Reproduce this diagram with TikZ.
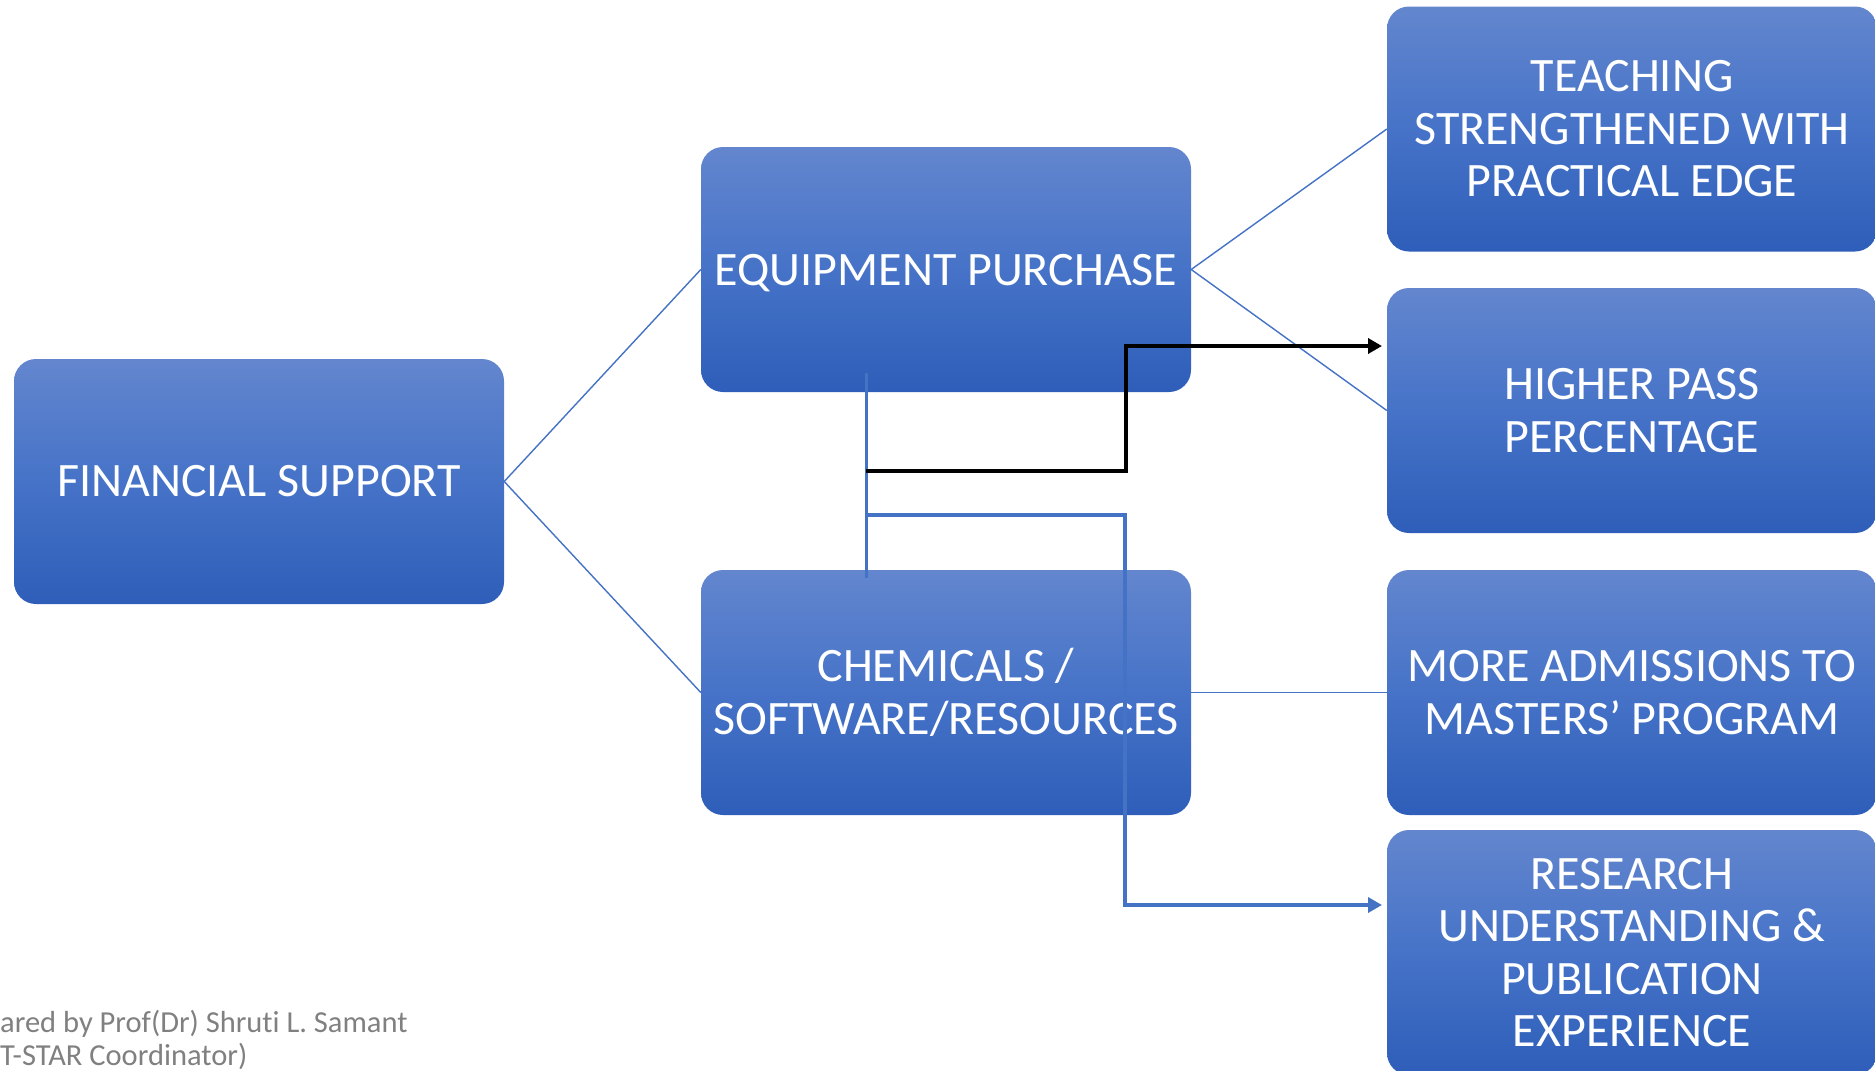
\documentclass[tikz,border=0pt]{standalone}
\usepackage{fontspec}
\setmainfont{Carlito}
\newfontfamily\footfont[Ligatures=NoCommon]{Carlito}
\usetikzlibrary{arrows.meta}
\definecolor{gtop}{RGB}{99,134,206}
\definecolor{gmid}{RGB}{70,115,200}
\definecolor{gbot}{RGB}{46,94,185}
\definecolor{accent}{RGB}{68,114,196}
\definecolor{foot}{RGB}{128,128,128}
\tikzset{
  bluebox/.style={rectangle, rounded corners=22pt, minimum width=490pt, minimum height=245pt,
    top color=gtop, bottom color=gbot, middle color=gmid, draw=none, inner sep=0pt,
    text=white, align=center, font=\fontsize{48}{52.5}\selectfont},
  thinlink/.style={draw=accent, line width=1.4pt},
  thicklink/.style={draw=accent, line width=3pt},
  blackarrow/.style={draw=black, line width=4pt, -{Triangle[length=14pt,width=15pt]}},
  bluearrow/.style={draw=accent, line width=4pt, -{Triangle[length=14pt,width=15pt]}},
  foottext/.style={anchor=base west, inner sep=0pt, text=foot, font=\footfont\fontsize{30.5}{36}\selectfont}
}
\begin{document}
\begin{tikzpicture}[x=1pt,y=-1pt]
\useasboundingbox (0,0) rectangle (1875,1071);
\clip (0,0) rectangle (1875,1071);
\node[bluebox] (fs) at (259,481.5) {FINANCIAL SUPPORT};
\node[bluebox, text depth=0pt] (eq) at (946,269.5) {EQUIPMENT PURCHASE};
\node[bluebox] (ch) at (946,692.5) {CHEMICALS /\\SOFTWARE/RESOURCES};
\node[bluebox] (te) at (1632,129) {TEACHING\\STRENGTHENED WITH\\PRACTICAL EDGE};
\node[bluebox] (hp) at (1632,410.5) {HIGHER PASS\\PERCENTAGE};
\node[bluebox] (ma) at (1632,692.5) {MORE ADMISSIONS TO\\MASTERS’ PROGRAM};
\node[bluebox] (re) at (1632,952.5) {RESEARCH\\UNDERSTANDING \&\\PUBLICATION\\EXPERIENCE};
% thin links
\draw[thinlink] (fs.east) -- (eq.west);
\draw[thinlink] (fs.east) -- (ch.west);
\draw[thinlink] (eq.east) -- (te.west);
\draw[thinlink] (eq.east) -- (hp.west);
\draw[thinlink] (ch.east) -- (ma.west);
% vertical connector and routed arrows
\coordinate (vtop) at (866,373);
\coordinate (vbot) at (866,578);
\coordinate (vblack) at (866,471);
\coordinate (vblue) at (866,515);
\coordinate (hpin) at (1382,346);
\coordinate (rein) at (1382,905);
\draw[thicklink] (vtop) -- (vbot);
\draw[blackarrow] (vblack) -| (1126,346) -- (hpin);
\draw[bluearrow] (vblue) -| (1125,905) -- (rein);
% footer
\node[foottext] (f1) at (0,1032) {ared by Prof(Dr) Shruti L. Samant};
\node[foottext] (f2) at (0,1065) {T-STAR Coordinator)};
\end{tikzpicture}
\end{document}
